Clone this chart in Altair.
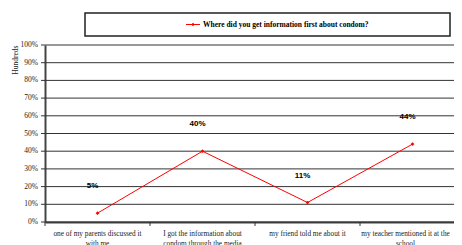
import json
import altair as alt
import pandas as pd

categories = [
    "one of my parents discussed it with me",
    "I got the information about condom through the media",
    "my friend told me about it",
    "my teacher mentioned it at the school",
]
label_lines = [
    ["one of my parents discussed it", "with me"],
    ["I got the information about", "condom through the media"],
    ["my friend told me about it"],
    ["my teacher mentioned it at the", "school"],
]
values = [5, 40, 11, 44]
value_labels = ["5%", "40%", "11%", "44%"]
series_name = "Where did you get information first about condom?"
y_ticks = [0, 10, 20, 30, 40, 50, 60, 70, 80, 90, 100]
y_tick_labels = ["0%", "10%", "20%", "30%", "40%", "50%", "60%", "70%", "80%", "90%", "100%"]
y_title = "Hundreds"

df = pd.DataFrame({"cat": categories, "val": values, "lab": value_labels})
grid_df = pd.DataFrame({"t": y_ticks, "tl": y_tick_labels})
one = pd.DataFrame({"k": [0]})

label_expr = json.dumps(dict(zip(categories, label_lines))) + "[datum.label]"
last_test = "datum.value == " + json.dumps(categories[-1])

xscale = alt.Scale(domain=categories, range=[0, 420], paddingInner=0, paddingOuter=0)
yscale = alt.Scale(domain=[0, 100], nice=False, zero=True)

x_axis = alt.Axis(
    title=None, labelAngle=0, ticks=False, labelExpr=label_expr,
    labelFont="Liberation Serif", labelFontSize=7.3, labelColor="#222",
    labelOffset={"condition": {"test": last_test, "value": -7}, "value": 0},
    domainColor="#444", domainWidth=2, labelPadding=7, labelLimit=300,
    labelLineHeight=10, grid=False,
)
y_axis = alt.Axis(
    labels=False, ticks=False, grid=False, title=y_title,
    titleAnchor="end", titleFont="Liberation Serif", titleFontSize=7.5,
    titleFontWeight="normal", titleColor="#222", titlePadding=26,
    domainColor="#444", domainWidth=2,
)

grid = alt.Chart(grid_df).mark_rule(color="#333", strokeWidth=1).encode(
    y=alt.Y("t:Q", scale=yscale, axis=y_axis), x=alt.value(0), x2=alt.value(409)
)
ytick = alt.Chart(grid_df).mark_rule(color="#333", strokeWidth=1).encode(
    y=alt.Y("t:Q", scale=yscale), x=alt.value(-4), x2=alt.value(0)
)
ylab = alt.Chart(grid_df).mark_text(
    align="right", baseline="middle", font="Liberation Serif", fontSize=7.5, color="#222"
).encode(y=alt.Y("t:Q", scale=yscale), x=alt.value(-7), text="tl:N")

base = alt.Chart(df)

line = base.mark_line(
    color="#ff0000", strokeWidth=1,
    point=alt.OverlayMarkDef(shape="diamond", size=14, filled=True, color="#ff0000"),
).encode(
    x=alt.X("cat:N", sort=categories, scale=xscale, axis=x_axis),
    y=alt.Y("val:Q", scale=yscale),
)

text = base.mark_text(
    fontWeight="bold", fontSize=8, font="Liberation Sans", dy=-27, dx=-5, color="#000000"
).encode(
    x=alt.X("cat:N", sort=categories, scale=xscale),
    y=alt.Y("val:Q", scale=yscale),
    text="lab:N",
)

ticks = base.mark_rule(color="#333", strokeWidth=1).encode(
    x=alt.X("cat:N", sort=categories, scale=xscale, bandPosition=0),
    y=alt.value(177), y2=alt.value(181),
)

legend_box = alt.Chart(one).mark_rect(fill="white", stroke="#222", strokeWidth=1.5).encode(
    x=alt.value(40), x2=alt.value(405), y=alt.value(-32), y2=alt.value(-9)
)
legend_line = alt.Chart(one).mark_rule(color="#ff0000", strokeWidth=1).encode(
    x=alt.value(141), x2=alt.value(155), y=alt.value(-20.5)
)
legend_pt = alt.Chart(one).mark_point(shape="diamond", size=14, filled=True, color="#ff0000", opacity=1).encode(
    x=alt.value(148), y=alt.value(-20.5)
)
legend_text = alt.Chart(one).mark_text(
    align="left", baseline="middle", font="Liberation Serif", fontWeight="bold",
    fontSize=7.5, color="#000000"
).encode(x=alt.value(158), y=alt.value(-20.5), text=alt.value(series_name))

chart = alt.layer(
    grid, ytick, ylab, line, text, ticks, legend_box, legend_line, legend_pt, legend_text
).properties(
    width=409, height=177,
    autosize=alt.AutoSizeParams(type="none"),
    padding={"left": 37, "top": 37, "right": 0, "bottom": 23},
).configure_view(stroke=None)

chart.save("out.html", embed_options={"renderer": "svg", "actions": False})
